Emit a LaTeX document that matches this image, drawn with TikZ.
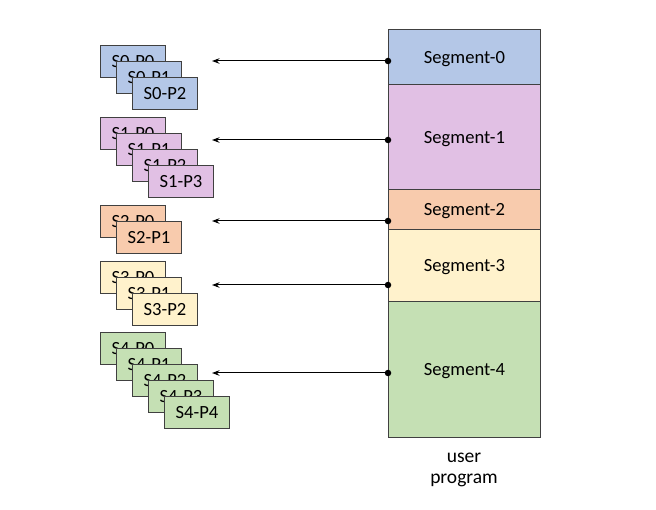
\documentclass[tikz,border=0pt]{standalone}
\usepackage{fontspec}
\setmainfont{Carlito}
\usetikzlibrary{arrows.meta}
\definecolor{cblue}{HTML}{B4C7E7}
\definecolor{cpurple}{HTML}{E1C0E4}
\definecolor{corange}{HTML}{F8CBAD}
\definecolor{cyellow}{HTML}{FFF2CC}
\definecolor{cgreen}{HTML}{C5E0B4}
\definecolor{bordc}{HTML}{404040}
\begin{document}
\begin{tikzpicture}[x=1pt,y=-1pt,
  pagebox/.style={draw=bordc, line width=0.9pt, minimum width=65pt, minimum height=32pt, inner sep=0pt, anchor=north west, text depth=0pt, font=\fontsize{18.6}{20}\selectfont},
  segbox/.style={draw=bordc, line width=0.9pt, minimum width=152pt, inner sep=0pt, anchor=north west, text depth=0pt, font=\fontsize{18.6}{20}\selectfont},
  link/.style={-{Stealth[length=7.5pt,width=5.5pt]}, line width=1pt},
  dotn/.style={circle, fill=black, inner sep=0pt, minimum size=6.5pt}]
\useasboundingbox (0,0) rectangle (656,510);
% segments
\node[segbox, fill=cblue,   minimum height=55.5pt] (seg0) at (388,29)    {Segment-0};
\node[segbox, fill=cpurple, minimum height=104.2pt] (seg1) at (388,84.5)  {Segment-1};
\node[segbox, fill=corange, minimum height=40pt]   (seg2) at (388,188.7) {Segment-2};
\node[segbox, fill=cyellow, minimum height=72pt]   (seg3) at (388,228.7) {Segment-3};
\node[segbox, fill=cgreen,  minimum height=136pt]  (seg4) at (388,300.7) {Segment-4};
\node[align=center, inner sep=0pt, font=\fontsize{19.5}{21}\selectfont] (lbl) at (464,470) {user\\program};
% pages
\foreach \i in {0,1,2}
  \node[pagebox, fill=cblue] (s0p\i) at (100+16*\i,45+16*\i) {S0-P\i};
\foreach \i in {0,1,2,3}
  \node[pagebox, fill=cpurple] (s1p\i) at (100+16*\i,117+16*\i) {S1-P\i};
\foreach \i in {0,1}
  \node[pagebox, fill=corange] (s2p\i) at (100+16*\i,205+16*\i) {S2-P\i};
\foreach \i in {0,1,2}
  \node[pagebox, fill=cyellow] (s3p\i) at (100+16*\i,261+16*\i) {S3-P\i};
\foreach \i in {0,1,2,3,4}
  \node[pagebox, fill=cgreen] (s4p\i) at (100+16*\i,332+16*\i) {S4-P\i};
% connectors
\foreach \k/\yy in {0/61,1/140,2/221,3/285,4/373}{
  \coordinate (a\k) at (212,\yy);
  \coordinate (d\k) at (388,\yy);
  \draw[link] (d\k) -- (a\k);
  \node[dotn] (dot\k) at (d\k) {};
}
\end{tikzpicture}
\end{document}
